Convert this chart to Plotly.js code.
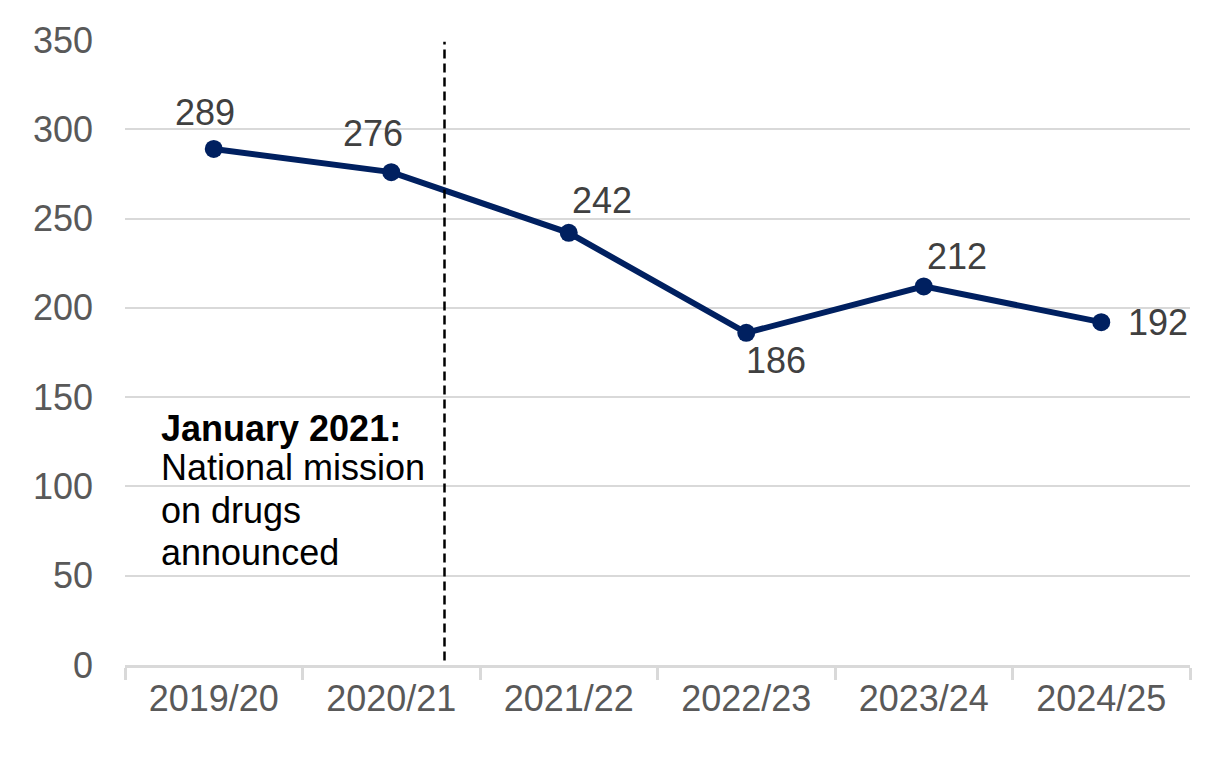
<!DOCTYPE html>
<html>
<head>
<meta charset="utf-8">
<script src="https://cdn.plot.ly/plotly-3.0.1.min.js"></script>
<style>
  html, body { margin: 0; padding: 0; background: #fff; }
  #chart { width: 1224px; height: 762px; }
</style>
</head>
<body>
<div id="chart"></div>
<script>
// Financial years and yearly totals
const years = ['2019/20', '2020/21', '2021/22', '2022/23', '2023/24', '2024/25'];
const totals = [289, 276, 242, 186, 212, 192];
const yTicks = [0, 50, 100, 150, 200, 250, 300, 350];

// Where the policy milestone sits between categories
const milestoneX = 1.3;
const milestoneLines = ['<b>January 2021:</b>', 'National mission', 'on drugs', 'announced'];
const milestoneLineY = [132.5, 110.5, 86.5, 63];

// Label offsets (pixels) for each point's value label
const labelShift = [
  {x: -9, y: 36}, {x: -18, y: 39}, {x: 33, y: 32},
  {x: 30, y: -28}, {x: 33, y: 30}, {x: 57, y: 0}
];

const font = 'Liberation Sans, Arial, sans-serif';
const navy = '#002060';
const grid = '#d9d9d9';

const trace = {
  x: years,
  y: totals,
  type: 'scatter',
  mode: 'lines+markers',
  line: {color: navy, width: 6},
  marker: {color: navy, size: 18},
  hoverinfo: 'skip',
  cliponaxis: false
};

const annotations = totals.map((v, i) => ({
  x: years[i], y: v, xref: 'x', yref: 'y',
  text: String(v), showarrow: false,
  xanchor: 'center', yanchor: 'middle',
  xshift: labelShift[i].x, yshift: labelShift[i].y,
  font: {family: font, size: 36, color: '#404040'}
}));

milestoneLines.forEach((t, i) => {
  annotations.push({
    x: -0.31, y: milestoneLineY[i], xref: 'x', yref: 'y',
    text: t, showarrow: false, xanchor: 'left', yanchor: 'middle',
    font: {family: font, size: 36, color: '#000000'}
  });
});

const layout = {
  width: 1224, height: 762,
  margin: {l: 125, r: 34, t: 40, b: 97},
  paper_bgcolor: '#ffffff', plot_bgcolor: '#ffffff',
  showlegend: false,
  font: {family: font, size: 36, color: '#595959'},
  xaxis: {
    type: 'category',
    range: [-0.5, 5.5],
    showgrid: false, zeroline: false,
    showline: true, linecolor: grid, linewidth: 3,
    ticks: 'outside', tickson: 'boundaries', ticklen: 12, tickwidth: 3, tickcolor: grid,
    tickfont: {family: font, size: 36, color: '#595959'},
    fixedrange: true
  },
  yaxis: {
    range: [0, 350],
    tickvals: yTicks,
    ticktext: yTicks.map(String),
    showgrid: true, gridcolor: grid, gridwidth: 2,
    zeroline: false, showline: false, ticks: '',
    ticklabelstandoff: 31,
    tickfont: {family: font, size: 36, color: '#595959'},
    fixedrange: true
  },
  shapes: [{
    type: 'line', xref: 'x', yref: 'y',
    x0: milestoneX, x1: milestoneX, y0: 2.5, y1: 349,
    line: {color: '#000000', width: 2.5, dash: '9px,5px'}
  }],
  annotations: annotations
};

Plotly.newPlot('chart', [trace], layout, {displayModeBar: false, staticPlot: true});
</script>
</body>
</html>
